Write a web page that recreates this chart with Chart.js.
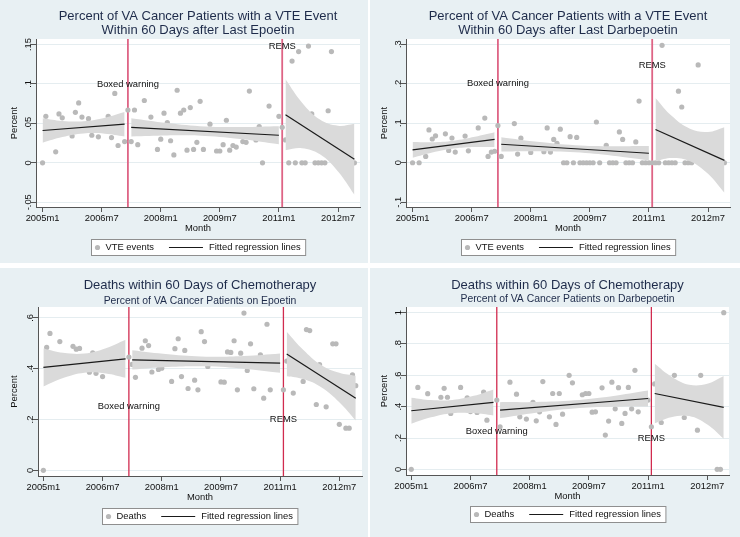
<!DOCTYPE html>
<html>
<head>
<meta charset="utf-8">
<script src="https://cdn.jsdelivr.net/npm/chart.js"></script>
<style>
  body { margin: 0; width: 740px; height: 537px; background: #ffffff; position: relative; overflow: hidden; }
  .panel { position: absolute; background: #e8f0f3; }
  .panel canvas { display: block; }
</style>
</head>
<body>
<div class="panel" style="left:0;top:0;width:368px;height:263px"><canvas id="vte-epo" width="368" height="263"></canvas></div>
<div class="panel" style="left:370px;top:0;width:370px;height:263px"><canvas id="vte-darb" width="370" height="263"></canvas></div>
<div class="panel" style="left:0;top:268px;width:368px;height:269px"><canvas id="death-epo" width="368" height="269"></canvas></div>
<div class="panel" style="left:370px;top:268px;width:370px;height:269px"><canvas id="death-darb" width="370" height="269"></canvas></div>
<script>
// month index: 0 = 2005m1
const monthTicks = [0, 18, 36, 54, 72, 90]
const monthLabels = ['2005m1', '2006m7', '2008m1', '2009m7', '2011m1', '2012m7']
const eventMonths = [26, 73]
const eventLabels = ['Boxed warning', 'REMS']

// regression segments
const segStart = [0, 27, 74]
const segEnd = [25, 72, 95]
const bandMonths = [[0, 6, 12.5, 19, 25], [27, 38, 49.5, 61, 72], [74, 79, 84.5, 90, 95]]

// VTE after last Epoetin
const vteEpoMonths = [0, 1, 4, 5, 6, 9, 10, 11, 12, 14, 15, 17, 20, 21, 22, 23, 25, 26, 27, 28, 29, 31, 33, 35, 36, 37, 38, 39, 40, 41, 42, 43, 44, 45, 46, 47, 48, 49, 51, 53, 54, 55, 56, 57, 58, 59, 61, 62, 63, 65, 66, 67, 69, 72, 73, 74, 75, 76, 77, 78, 79, 80, 81, 82, 83, 84, 85, 86, 87, 88, 95]
const vteEpoRates = [0, 0.059, 0.014, 0.062, 0.057, 0.034, 0.064, 0.076, 0.058, 0.056, 0.035, 0.033, 0.059, 0.032, 0.088, 0.022, 0.027, 0.067, 0.027, 0.067, 0.023, 0.079, 0.058, 0.017, 0.030, 0.063, 0.051, 0.028, 0.010, 0.092, 0.063, 0.067, 0.016, 0.070, 0.017, 0.026, 0.078, 0.017, 0.049, 0.015, 0.015, 0.023, 0.054, 0.016, 0.022, 0.020, 0.027, 0.026, 0.091, 0.029, 0.046, 0, 0.072, 0.059, 0.045, 0.029, 0, 0.129, 0, 0.141, 0, 0, 0.148, 0.062, 0, 0, 0, 0, 0.066, 0.141, 0]
const vteEpoFit = [[0.041, 0.049], [0.045, 0.035], [0.061, 0.0046]]
const vteEpoUpper = [[0.0565, 0.0531, 0.0528, 0.0573, 0.0645], [0.0565, 0.0504, 0.046, 0.0455, 0.0465], [0.106, 0.0766, 0.0548, 0.047, 0.0496]]
const vteEpoLower = [[0.0255, 0.0327, 0.0372, 0.0369, 0.0335], [0.0335, 0.0348, 0.034, 0.0299, 0.0235], [0.016, 0.0186, 0.0108, -0.011, -0.0404]]
const vteEpoTicks = [-0.05, 0, 0.05, 0.1, 0.15]
const vteEpoTickLabels = ['-.05', '0', '.05', '.1', '.15']
const vteEpoEventY = [0.1, 0.148]

// VTE after last Darbepoetin
const vteDarbMonths = [0, 2, 4, 5, 6, 7, 10, 11, 12, 13, 16, 17, 20, 22, 23, 24, 25, 26, 27, 31, 32, 33, 36, 40, 41, 42, 43, 44, 45, 46, 47, 48, 49, 50, 51, 52, 53, 54, 55, 56, 57, 59, 60, 61, 62, 63, 64, 65, 66, 67, 68, 69, 70, 71, 72, 73, 74, 75, 76, 77, 78, 79, 80, 81, 82, 83, 84, 85, 87, 95]
const vteDarbRates = [0, 0, 0.016, 0.083, 0.060, 0.068, 0.073, 0.031, 0.0625, 0.027, 0.0675, 0.030, 0.088, 0.113, 0.016, 0.027, 0.029, 0.094, 0.016, 0.099, 0.022, 0.062, 0.026, 0.028, 0.088, 0.027, 0.059, 0.049, 0.085, 0, 0, 0.066, 0, 0.064, 0, 0, 0, 0, 0, 0.103, 0, 0.044, 0, 0, 0, 0.078, 0.059, 0, 0, 0, 0.0525, 0.156, 0, 0, 0, 0, 0, 0, 0.297, 0, 0, 0, 0, 0.181, 0.141, 0, 0, 0, 0.2475, 0]
const vteDarbFit = [[0.0325, 0.059], [0.0467, 0.024], [0.084, 0.006]]
const vteDarbUpper = [[0.0525, 0.0519, 0.0558, 0.0656, 0.077], [0.0647, 0.0531, 0.0444, 0.0418, 0.042], [0.164, 0.118, 0.086, 0.078, 0.09]]
const vteDarbLower = [[0.0125, 0.0259, 0.0358, 0.0396, 0.040], [0.0287, 0.0291, 0.0264, 0.0178, 0.006], [0.004, 0.012, 0.004, -0.028, -0.076]]
const vteDarbTicks = [-0.1, 0, 0.1, 0.2, 0.3]
const vteDarbTickLabels = ['-.1', '0', '.1', '.2', '.3']
const vteDarbEventY = [0.2, 0.245]

// Deaths, Epoetin
const deathEpoMonths = [0, 1, 2, 5, 9, 10, 11, 14, 15, 16, 18, 26, 27, 28, 30, 31, 32, 33, 35, 36, 39, 40, 41, 42, 43, 44, 46, 47, 48, 49, 50, 54, 55, 56, 57, 58, 59, 60, 61, 62, 63, 64, 66, 67, 68, 69, 73, 74, 76, 79, 80, 81, 83, 84, 86, 88, 89, 90, 92, 93, 94, 95]
const deathEpoRates = [0, 0.484, 0.539, 0.507, 0.488, 0.477, 0.480, 0.386, 0.462, 0.382, 0.369, 0.446, 0.417, 0.366, 0.481, 0.510, 0.491, 0.387, 0.397, 0.402, 0.350, 0.479, 0.518, 0.369, 0.472, 0.322, 0.355, 0.317, 0.546, 0.507, 0.409, 0.348, 0.347, 0.466, 0.464, 0.510, 0.317, 0.461, 0.619, 0.393, 0.498, 0.321, 0.455, 0.284, 0.575, 0.317, 0.317, 0.430, 0.304, 0.350, 0.554, 0.550, 0.259, 0.416, 0.250, 0.498, 0.498, 0.181, 0.166, 0.166, 0.376, 0.333]
const deathEpoFit = [[0.405, 0.439], [0.435, 0.422], [0.458, 0.284]]
const deathEpoUpper = [[0.48, 0.463, 0.46, 0.481, 0.514], [0.473, 0.457, 0.4475, 0.45, 0.46], [0.546, 0.475, 0.415, 0.384, 0.372]]
const deathEpoLower = [[0.33, 0.363, 0.384, 0.381, 0.364], [0.397, 0.407, 0.4095, 0.4, 0.384], [0.37, 0.359, 0.327, 0.268, 0.196]]
const deathEpoTicks = [0, 0.2, 0.4, 0.6]
const deathEpoTickLabels = ['0', '.2', '.4', '.6']
const deathEpoEventY = [0.25, 0.2]

// Deaths, Darbepoetin
const deathDarbMonths = [0, 2, 5, 9, 10, 11, 12, 15, 17, 18, 20, 22, 23, 24, 26, 27, 28, 29, 30, 32, 33, 35, 37, 38, 39, 40, 42, 43, 44, 45, 46, 48, 49, 52, 53, 54, 55, 56, 58, 59, 60, 61, 62, 63, 64, 65, 66, 67, 68, 69, 72, 73, 74, 76, 80, 83, 87, 88, 93, 94, 95]
const deathDarbRates = [0, 0.523, 0.483, 0.460, 0.517, 0.460, 0.357, 0.523, 0.457, 0.369, 0.363, 0.493, 0.314, 0.389, 0.442, 0.272, 0.389, 0.395, 0.556, 0.480, 0.335, 0.321, 0.427, 0.310, 0.367, 0.560, 0.335, 0.484, 0.287, 0.484, 0.352, 0.600, 0.552, 0.476, 0.484, 0.484, 0.365, 0.367, 0.520, 0.219, 0.308, 0.556, 0.386, 0.521, 0.293, 0.357, 0.523, 0.386, 0.632, 0.367, 0.442, 0.272, 0.545, 0.299, 0.600, 0.331, 0.250, 0.600, 0, 0, 1.0]
const deathDarbFit = [[0.374, 0.427], [0.378, 0.452], [0.484, 0.395]]
const deathDarbUpper = [[0.457, 0.442, 0.4425, 0.469, 0.51], [0.429, 0.43, 0.441, 0.467, 0.503], [0.674, 0.593, 0.54, 0.546, 0.595]]
const deathDarbLower = [[0.291, 0.332, 0.3585, 0.359, 0.344], [0.327, 0.362, 0.389, 0.399, 0.401], [0.294, 0.333, 0.34, 0.286, 0.195]]
const deathDarbTicks = [0, 0.2, 0.4, 0.6, 0.8, 1]
const deathDarbTickLabels = ['0', '.2', '.4', '.6', '.8', '1']
const deathDarbEventY = [0.245, 0.2]

const FONT = "'Liberation Sans', Arial, sans-serif"
Chart.defaults.font.family = FONT
Chart.defaults.font.size = 9.4
Chart.defaults.color = '#111'

function buildPanel(id, panel) {
  const canvas = document.getElementById(id)
  const plot = panel.plot
  const datasets = []

  segStart.forEach((s, i) => {
    datasets.push({
      type: 'line',
      label: panel.fitLabel,
      data: [{ x: s, y: panel.fit[i][0] }, { x: segEnd[i], y: panel.fit[i][1] }],
      borderColor: '#1a1a1a',
      borderWidth: 1.2,
      pointRadius: 0,
      fill: false
    })
  })

  bandMonths.forEach((months, i) => {
    datasets.push({
      type: 'line',
      data: months.map((m, j) => ({ x: m, y: panel.upper[i][j] })),
      borderColor: 'rgba(0,0,0,0)',
      backgroundColor: '#dadada',
      pointRadius: 0,
      tension: 0.4,
      fill: '+1'
    })
    datasets.push({
      type: 'line',
      data: months.map((m, j) => ({ x: m, y: panel.lower[i][j] })),
      borderColor: 'rgba(0,0,0,0)',
      pointRadius: 0,
      tension: 0.4,
      fill: false
    })
  })

  datasets.push({
    type: 'scatter',
    label: panel.seriesLabel,
    data: panel.months.map((m, i) => ({ x: m, y: panel.values[i] })),
    backgroundColor: '#b9b9b9',
    borderWidth: 0,
    pointRadius: 2.6
  })

  const panelPlugin = {
    id: 'panelDecor',
    beforeDraw(chart) {
      const { ctx, chartArea } = chart
      ctx.save()
      ctx.fillStyle = '#ffffff'
      ctx.fillRect(chartArea.left, chartArea.top, chartArea.right - chartArea.left, chartArea.bottom - chartArea.top)
      ctx.restore()
    },
    beforeDatasetsDraw(chart) {
      const { ctx, chartArea, scales: { x } } = chart
      ctx.save()
      ctx.strokeStyle = panel.eventColor
      ctx.lineWidth = panel.eventWidth
      eventMonths.forEach(m => {
        const px = x.getPixelForValue(m)
        ctx.beginPath()
        ctx.moveTo(px, chartArea.top)
        ctx.lineTo(px, chartArea.bottom)
        ctx.stroke()
      })
      ctx.restore()
    },
    afterDatasetsDraw(chart) {
      const { ctx, scales: { x, y } } = chart
      ctx.save()
      ctx.font = '9.4px ' + FONT
      ctx.fillStyle = '#111'
      ctx.textAlign = 'center'
      ctx.textBaseline = 'middle'
      eventMonths.forEach((m, i) => {
        ctx.fillText(eventLabels[i], x.getPixelForValue(m), y.getPixelForValue(panel.eventY[i]))
      })
      ctx.restore()
    },
    afterDraw(chart) {
      const { ctx, chartArea, scales: { y } } = chart
      const cx = (chartArea.left + chartArea.right) / 2
      ctx.save()

      // rotated y tick labels
      ctx.font = '9.4px ' + FONT
      ctx.fillStyle = '#111'
      ctx.textAlign = 'center'
      ctx.textBaseline = 'middle'
      panel.yTicks.forEach((v, i) => {
        ctx.save()
        ctx.translate(chartArea.left - 8, y.getPixelForValue(v))
        ctx.rotate(-Math.PI / 2)
        ctx.fillText(panel.yTickLabels[i], 0, 0)
        ctx.restore()
      })

      // titles
      ctx.fillStyle = '#1e2b4a'
      panel.titles.forEach(t => {
        ctx.font = t.size + 'px ' + FONT
        ctx.fillText(t.text, cx, t.y)
      })

      // legend box
      ctx.font = '9.4px ' + FONT
      const w1 = ctx.measureText(panel.seriesLabel).width
      const w2 = ctx.measureText(panel.fitLabel).width
      const boxW = 74 + w1 + w2
      const left = Math.round(cx - boxW / 2) + 0.5
      const top = Math.round(chartArea.bottom + panel.legendOffset) + 0.5
      const h = 16
      const mid = top + h / 2
      ctx.fillStyle = '#ffffff'
      ctx.fillRect(left, top, boxW, h)
      ctx.strokeStyle = '#8f8f8f'
      ctx.lineWidth = 1
      ctx.strokeRect(left, top, boxW, h)
      ctx.fillStyle = '#b9b9b9'
      ctx.beginPath()
      ctx.arc(left + 6, mid, 2.6, 0, Math.PI * 2)
      ctx.fill()
      ctx.fillStyle = '#111'
      ctx.textAlign = 'left'
      ctx.fillText(panel.seriesLabel, left + 14, mid)
      const lx = left + 14 + w1 + 15
      ctx.strokeStyle = '#1a1a1a'
      ctx.lineWidth = 1.2
      ctx.beginPath()
      ctx.moveTo(lx, mid)
      ctx.lineTo(lx + 34, mid)
      ctx.stroke()
      ctx.fillText(panel.fitLabel, lx + 40, mid)
      ctx.restore()
    }
  }

  return new Chart(canvas, {
    type: 'scatter',
    data: { datasets },
    options: {
      responsive: false,
      animation: false,
      layout: {
        padding: {
          left: 0,
          top: plot.top,
          right: canvas.width - plot.right,
          bottom: canvas.height - plot.bottom - 30
        }
      },
      scales: {
        x: {
          type: 'linear',
          min: panel.xMin,
          max: panel.xMax,
          afterBuildTicks: axis => { axis.ticks = monthTicks.map(v => ({ value: v })) },
          afterFit: axis => { axis.height = 30 },
          ticks: {
            callback: (value, index) => monthLabels[index],
            autoSkip: false,
            maxRotation: 0,
            padding: 1,
            color: '#111'
          },
          grid: { drawOnChartArea: false, drawTicks: true, tickLength: 5, tickColor: '#555' },
          border: { display: true, color: '#555', width: 1 },
          title: { display: true, text: 'Month', color: '#111', padding: { top: 0, bottom: 3 } }
        },
        y: {
          type: 'linear',
          min: panel.yMin,
          max: panel.yMax,
          afterBuildTicks: axis => { axis.ticks = panel.yTicks.map(v => ({ value: v })) },
          afterFit: axis => { axis.width = plot.left },
          ticks: { display: false },
          grid: { color: '#e5edf0', drawTicks: true, tickLength: 5, tickColor: '#555' },
          border: { display: true, color: '#555', width: 1 },
          title: { display: true, text: 'Percent', color: '#111', padding: { top: 9, bottom: 0 } }
        }
      },
      plugins: {
        legend: { display: false },
        tooltip: { enabled: false }
      }
    },
    plugins: [panelPlugin]
  })
}

buildPanel('vte-epo', {
  months: vteEpoMonths, values: vteEpoRates,
  fit: vteEpoFit, upper: vteEpoUpper, lower: vteEpoLower,
  yTicks: vteEpoTicks, yTickLabels: vteEpoTickLabels, eventY: vteEpoEventY,
  yMin: -0.056, yMax: 0.157, xMin: -2.0, xMax: 96.7,
  plot: { left: 36, right: 360, top: 39, bottom: 207 },
  titles: [
    { text: 'Percent of VA Cancer Patients with a VTE Event', size: 13, y: 16.7 },
    { text: 'Within 60 Days after Last Epoetin', size: 13, y: 30.7 }
  ],
  seriesLabel: 'VTE events', fitLabel: 'Fitted regression lines', legendOffset: 32,
  eventColor: '#de6485', eventWidth: 1.8
})

buildPanel('vte-darb', {
  months: vteDarbMonths, values: vteDarbRates,
  fit: vteDarbFit, upper: vteDarbUpper, lower: vteDarbLower,
  yTicks: vteDarbTicks, yTickLabels: vteDarbTickLabels, eventY: vteDarbEventY,
  yMin: -0.112, yMax: 0.313, xMin: -2.0, xMax: 96.7,
  plot: { left: 36, right: 360, top: 39, bottom: 207 },
  titles: [
    { text: 'Percent of VA Cancer Patients with a VTE Event', size: 13, y: 16.7 },
    { text: 'Within 60 Days after Last Darbepoetin', size: 13, y: 30.7 }
  ],
  seriesLabel: 'VTE events', fitLabel: 'Fitted regression lines', legendOffset: 32,
  eventColor: '#de6485', eventWidth: 1.8
})

buildPanel('death-epo', {
  months: deathEpoMonths, values: deathEpoRates,
  fit: deathEpoFit, upper: deathEpoUpper, lower: deathEpoLower,
  yTicks: deathEpoTicks, yTickLabels: deathEpoTickLabels, eventY: deathEpoEventY,
  yMin: -0.0225, yMax: 0.643, xMin: -1.64, xMax: 96.9,
  plot: { left: 38, right: 362, top: 39, bottom: 208 },
  titles: [
    { text: 'Deaths within 60 Days of Chemotherapy', size: 13, y: 17.7 },
    { text: 'Percent of VA Cancer Patients on Epoetin', size: 10.4, y: 32.7 }
  ],
  seriesLabel: 'Deaths', fitLabel: 'Fitted regression lines', legendOffset: 32,
  eventColor: '#d12b4f', eventWidth: 1.3
})

buildPanel('death-darb', {
  months: deathDarbMonths, values: deathDarbRates,
  fit: deathDarbFit, upper: deathDarbUpper, lower: deathDarbLower,
  yTicks: deathDarbTicks, yTickLabels: deathDarbTickLabels, eventY: deathDarbEventY,
  yMin: -0.036, yMax: 1.036, xMin: -1.6, xMax: 96.6,
  plot: { left: 36, right: 359, top: 39, bottom: 207 },
  titles: [
    { text: 'Deaths within 60 Days of Chemotherapy', size: 13, y: 17 },
    { text: 'Percent of VA Cancer Patients on Darbepoetin', size: 10.4, y: 31.3 }
  ],
  seriesLabel: 'Deaths', fitLabel: 'Fitted regression lines', legendOffset: 31,
  eventColor: '#d12b4f', eventWidth: 1.3
})
</script>
</body>
</html>
